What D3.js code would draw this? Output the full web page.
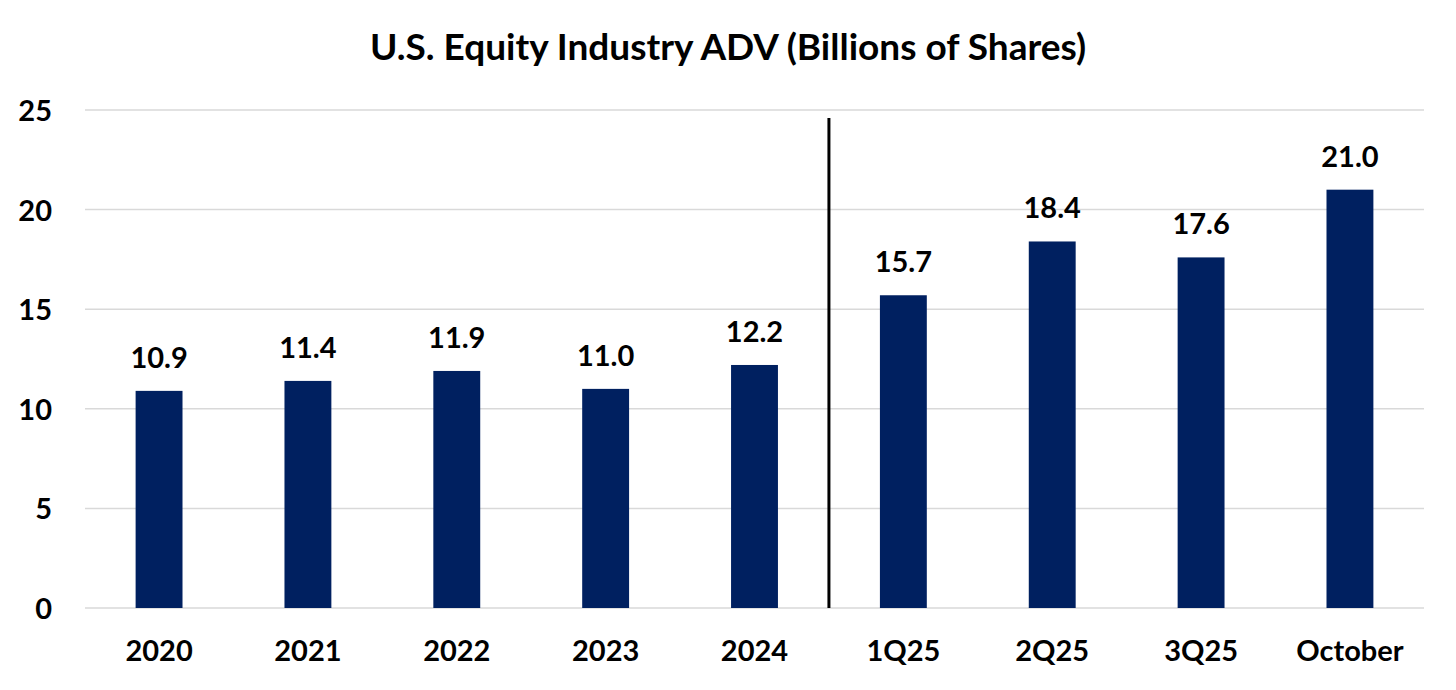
<!DOCTYPE html>
<html>
<head>
    <script src="https://cdnjs.cloudflare.com/ajax/libs/d3/7.8.5/d3.min.js"></script>
    <style>
        body { margin: 0; background: #fff; }
        svg text { font-family: Lato, "Open Sans", sans-serif; font-weight: bold; fill: #000; }
    </style>
</head>
<body>
    <svg id="chart" width="1456" height="690"></svg>
    <script>
        // Datos
        const categories = ["2020", "2021", "2022", "2023", "2024", "1Q25", "2Q25", "3Q25", "October"];
        const adv = [10.9, 11.4, 11.9, 11.0, 12.2, 15.7, 18.4, 17.6, 21.0];
        const yTicks = [0, 5, 10, 15, 20, 25];
        const dividerAfter = "2024";

        const svg = d3.select("#chart");
        const margin = {top: 110, right: 32, bottom: 82, left: 85};
        const width = 1456 - margin.left - margin.right;
        const height = 608 - margin.top;

        const x = d3.scaleBand()
            .domain(categories)
            .range([0, width])
            .paddingInner(0.685)
            .paddingOuter(0.34);

        const y = d3.scaleLinear()
            .domain([0, 25])
            .range([height, 0]);

        const g = svg.append("g")
            .attr("transform", `translate(${margin.left},${margin.top})`);

        // Titulo
        svg.append("text")
            .attr("x", 728)
            .attr("y", 60)
            .attr("text-anchor", "middle")
            .style("font-size", "37px")
            .text("U.S. Equity Industry ADV (Billions of Shares)");

        // Rejilla
        g.selectAll(".grid")
            .data(yTicks)
            .join("line")
            .attr("x1", 0)
            .attr("x2", width)
            .attr("y1", d => y(d))
            .attr("y2", d => y(d))
            .attr("stroke", "#d9d9d9")
            .attr("stroke-width", 1.5);

        // Eje Y
        const yAxis = g.append("g")
            .call(d3.axisLeft(y).tickValues(yTicks).tickSize(0).tickPadding(33));
        yAxis.select(".domain").remove();
        yAxis.selectAll("text").style("font-size", "29px").attr("dy", "0.36em");

        // Eje X
        const xAxis = g.append("g")
            .attr("transform", `translate(0,${height})`)
            .call(d3.axisBottom(x).tickSize(0).tickPadding(0));
        xAxis.select(".domain").remove();
        xAxis.selectAll("text").style("font-size", "29px").attr("dy", null).attr("y", 53);

        // Barras
        g.selectAll(".bar")
            .data(categories)
            .join("rect")
            .attr("x", d => x(d))
            .attr("y", (d, i) => y(adv[i]))
            .attr("width", x.bandwidth())
            .attr("height", (d, i) => height - y(adv[i]))
            .attr("fill", "#002060");

        // Etiquetas
        g.selectAll(".label")
            .data(categories)
            .join("text")
            .attr("x", d => x(d) + x.bandwidth() / 2)
            .attr("y", (d, i) => y(adv[i]) - 23)
            .attr("text-anchor", "middle")
            .style("font-size", "29px")
            .text((d, i) => adv[i].toFixed(1));

        // Linea divisoria
        const step = x.step();
        const divX = x(dividerAfter) + x.bandwidth() + (step - x.bandwidth()) / 2;
        g.append("line")
            .attr("x1", divX)
            .attr("x2", divX)
            .attr("y1", 8)
            .attr("y2", height)
            .attr("stroke", "#000")
            .attr("stroke-width", 3);
    </script>
</body>
</html>
